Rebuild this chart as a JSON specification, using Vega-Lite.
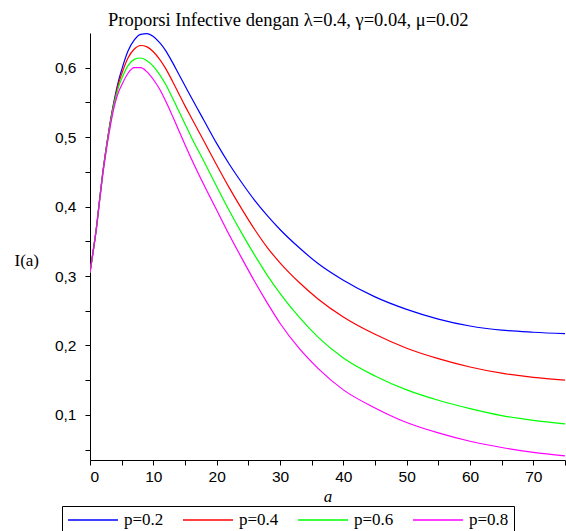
{
  "$schema": "https://vega.github.io/schema/vega-lite/v6.json",
  "width": 475,
  "height": 427,
  "autosize": {"type": "none"},
  "padding": {"left": 90, "top": 33, "right": 1, "bottom": 71},
  "background": "white",
  "title": {
    "text": "Proporsi Infective dengan λ=0.4, γ=0.04, μ=0.02",
    "anchor": "start",
    "frame": "group",
    "dx": 18,
    "dy": 16,
    "offset": 5,
    "baseline": "alphabetic",
    "font": "Liberation Serif",
    "fontSize": 18.5,
    "fontWeight": "normal",
    "color": "black"
  },
  "data": {
    "values": [
      {"a": 0, "p02": 0.305, "p04": 0.305, "p06": 0.305, "p08": 0.305},
      {"a": 0.5, "p02": 0.336, "p04": 0.336, "p06": 0.335, "p08": 0.335},
      {"a": 1, "p02": 0.369, "p04": 0.368, "p06": 0.368, "p08": 0.367},
      {"a": 1.5, "p02": 0.409, "p04": 0.408, "p06": 0.408, "p08": 0.407},
      {"a": 2, "p02": 0.448, "p04": 0.447, "p06": 0.446, "p08": 0.445},
      {"a": 2.5, "p02": 0.481, "p04": 0.48, "p06": 0.479, "p08": 0.477},
      {"a": 3, "p02": 0.511, "p04": 0.51, "p06": 0.508, "p08": 0.505},
      {"a": 3.5, "p02": 0.538, "p04": 0.536, "p06": 0.534, "p08": 0.53},
      {"a": 4, "p02": 0.561, "p04": 0.558, "p06": 0.555, "p08": 0.55},
      {"a": 4.5, "p02": 0.581, "p04": 0.577, "p06": 0.572, "p08": 0.565},
      {"a": 5, "p02": 0.597, "p04": 0.591, "p06": 0.584, "p08": 0.575},
      {"a": 6, "p02": 0.624, "p04": 0.614, "p06": 0.603, "p08": 0.592},
      {"a": 7, "p02": 0.640, "p04": 0.627, "p06": 0.612, "p08": 0.600},
      {"a": 8, "p02": 0.648, "p04": 0.632, "p06": 0.614, "p08": 0.600},
      {"a": 9, "p02": 0.649, "p04": 0.630, "p06": 0.610, "p08": 0.594},
      {"a": 10, "p02": 0.645, "p04": 0.623, "p06": 0.602, "p08": 0.583},
      {"a": 11, "p02": 0.636, "p04": 0.612, "p06": 0.590, "p08": 0.569},
      {"a": 12, "p02": 0.624, "p04": 0.598, "p06": 0.575, "p08": 0.551},
      {"a": 13, "p02": 0.608, "p04": 0.581, "p06": 0.557, "p08": 0.531},
      {"a": 14, "p02": 0.591, "p04": 0.563, "p06": 0.538, "p08": 0.510},
      {"a": 15, "p02": 0.574, "p04": 0.545, "p06": 0.519, "p08": 0.489},
      {"a": 16, "p02": 0.557, "p04": 0.528, "p06": 0.500, "p08": 0.469},
      {"a": 18, "p02": 0.524, "p04": 0.494, "p06": 0.465, "p08": 0.431},
      {"a": 20, "p02": 0.491, "p04": 0.460, "p06": 0.429, "p08": 0.395},
      {"a": 22, "p02": 0.461, "p04": 0.427, "p06": 0.394, "p08": 0.359},
      {"a": 24, "p02": 0.434, "p04": 0.396, "p06": 0.361, "p08": 0.325},
      {"a": 26, "p02": 0.409, "p04": 0.367, "p06": 0.330, "p08": 0.292},
      {"a": 28, "p02": 0.387, "p04": 0.341, "p06": 0.301, "p08": 0.261},
      {"a": 30, "p02": 0.367, "p04": 0.319, "p06": 0.275, "p08": 0.232},
      {"a": 33, "p02": 0.341, "p04": 0.291, "p06": 0.241, "p08": 0.196},
      {"a": 36, "p02": 0.318, "p04": 0.267, "p06": 0.212, "p08": 0.167},
      {"a": 40, "p02": 0.294, "p04": 0.241, "p06": 0.182, "p08": 0.136},
      {"a": 45, "p02": 0.270, "p04": 0.216, "p06": 0.156, "p08": 0.110},
      {"a": 50, "p02": 0.252, "p04": 0.196, "p06": 0.136, "p08": 0.089},
      {"a": 55, "p02": 0.238, "p04": 0.181, "p06": 0.121, "p08": 0.074},
      {"a": 60, "p02": 0.228, "p04": 0.169, "p06": 0.109, "p08": 0.062},
      {"a": 65, "p02": 0.222, "p04": 0.160, "p06": 0.099, "p08": 0.053},
      {"a": 70, "p02": 0.219, "p04": 0.154, "p06": 0.092, "p08": 0.046},
      {"a": 75, "p02": 0.217, "p04": 0.150, "p06": 0.087, "p08": 0.041}
    ]
  },
  "transform": [
    {"fold": ["p02", "p04", "p06", "p08"], "as": ["p", "I"]}
  ],
  "mark": {"type": "line", "strokeWidth": 1.2, "interpolate": "monotone", "clip": true},
  "encoding": {
    "x": {
      "field": "a",
      "type": "quantitative",
      "scale": {"domain": [0, 75], "nice": false, "zero": false},
      "axis": {
        "values": [0, 5, 10, 15, 20, 25, 30, 35, 40, 45, 50, 55, 60, 65, 70, 75],
        "labelExpr": "datum.value % 10 == 0 ? datum.label : ''",
        "format": "d",
        "labelPadding": 4,
        "title": "a",
        "titleFont": "Liberation Serif",
        "titleFontStyle": "italic",
        "titleFontSize": 17,
        "titleY": 36,
        "titleBaseline": "middle"
      }
    },
    "y": {
      "field": "I",
      "type": "quantitative",
      "scale": {"domain": [0.035, 0.65], "nice": false, "zero": false},
      "axis": {
        "values": [0.05, 0.1, 0.15, 0.2, 0.25, 0.3, 0.35, 0.4, 0.45, 0.5, 0.55, 0.6],
        "labelExpr": "abs(datum.value * 10 - round(datum.value * 10)) < 0.01 ? replace(format(datum.value, '.1f'), '.', ',') : ''",
        "labelPadding": 9,
        "title": "I(a)",
        "titleFont": "Liberation Serif",
        "titleFontSize": 17,
        "titleAngle": 0,
        "titleX": -76,
        "titleY": 227,
        "titleAlign": "left",
        "titleBaseline": "middle"
      }
    },
    "color": {
      "field": "p",
      "type": "nominal",
      "scale": {"domain": ["p02", "p04", "p06", "p08"], "range": ["#0000ff", "#ff0000", "#00ff00", "#ff00ff"]},
      "legend": {
        "title": null,
        "orient": "none",
        "direction": "horizontal",
        "legendX": -28,
        "legendY": 473,
        "labelExpr": "{'p02': 'p=0.2', 'p04': 'p=0.4', 'p06': 'p=0.6', 'p08': 'p=0.8'}[datum.label]",
        "symbolType": "stroke",
        "symbolSize": 2500,
        "symbolStrokeWidth": 1.5,
        "clipHeight": 18,
        "labelFont": "Liberation Serif",
        "labelFontSize": 17,
        "labelColor": "black",
        "labelOffset": 5,
        "columnPadding": 18,
        "padding": 5,
        "strokeColor": "black",
        "fillColor": "white"
      }
    }
  },
  "config": {
    "view": {"stroke": null},
    "axis": {
      "grid": false,
      "domainColor": "black",
      "domainWidth": 1,
      "tickColor": "black",
      "tickSize": 5,
      "labelFont": "Liberation Sans",
      "labelFontSize": 15.5,
      "labelColor": "black",
      "titleFont": "Liberation Serif",
      "titleFontWeight": "normal",
      "titleColor": "black"
    }
  }
}
